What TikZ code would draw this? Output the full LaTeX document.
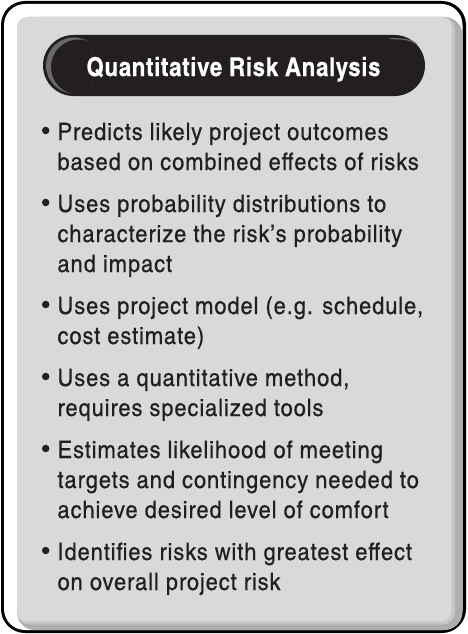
\documentclass[tikz,border=0pt]{standalone}
\usepackage{fontspec}
\newfontfamily\bodyfont{texgyreheroscn-regular.otf}[FakeStretch=1.12,LetterSpace=3.5,FakeBold=0.4]
\newfontfamily\titlefont{texgyreheroscn-bold.otf}[FakeStretch=1.05,LetterSpace=2.3,FakeBold=0.3]
\definecolor{ink}{HTML}{231F20}
\definecolor{panel}{HTML}{D9D9D9}
\definecolor{midband}{HTML}{C6C6C6}
\definecolor{shadowband}{HTML}{AEAEAE}
\definecolor{pillhi}{HTML}{6A6A6A}
\begin{document}
\begin{tikzpicture}[x=1pt,y=-1pt,
  txt/.style={anchor=base west, inner sep=0pt, outer sep=0pt, text=ink,
              font=\bodyfont\fontsize{24}{30}\selectfont},
  dot/.style={circle, fill=ink, inner sep=0pt, outer sep=0pt, minimum size=7.5pt},
  ttl/.style={anchor=base, inner sep=0pt, outer sep=0pt, text=white,
              font=\titlefont\fontsize{26}{30}\selectfont}]
\useasboundingbox (0,0) rectangle (468,634);
\fill[white] (0,0) rectangle (468,634);
% outer frame with bevel
\fill[black, rounded corners=24pt] (1,1) rectangle (466,633);
\fill[white, rounded corners=21pt] (4,4) rectangle (462.5,630);
\fill[shadowband, rounded corners=18pt] (17,17) rectangle (462.5,630);
\fill[midband, rounded corners=12pt] (17,17) rectangle (455,624.5);
\fill[panel, rounded corners=10pt] (17,17) rectangle (451.5,621.5);
% title pill
\fill[ink, rounded corners=30.5pt] (43,35) rectangle (425,96);
\begin{scope}
  \clip (40,30) rectangle (92,100);
  \fill[pillhi] (74,65.5) circle (28);
  \fill[ink] (78.5,67) circle (27.5);
\end{scope}
\draw[pillhi, line width=1.2pt, line cap=round] (390,38.6) .. controls (404,38.6) and (411,40) .. (416,43.5);
\node[ttl] (title) at (233.5,76) {Quantitative Risk Analysis};
% items
\node[dot] (b1) at (45.7,130.5) {};
\node[txt] (l1a) at (57.5,140) {Predicts likely project outcomes};
\node[txt] (l1b) at (57.5,170) {based on combined effects of risks};
\node[dot] (b2) at (45.7,202.5) {};
\node[txt] (l2a) at (57.5,212) {Uses probability distributions to};
\node[txt] (l2b) at (57.5,242) {characterize the risk’s probability};
\node[txt] (l2c) at (57.5,272) {and impact};
\node[dot] (b3) at (45.7,304.5) {};
\node[txt] (l3a) at (57.5,314) {Uses project model (e.g. schedule,};
\node[txt] (l3b) at (57.5,344) {cost estimate)};
\node[dot] (b4) at (45.7,376.5) {};
\node[txt] (l4a) at (57.5,386) {Uses a quantitative method,};
\node[txt] (l4b) at (57.5,416) {requires specialized tools};
\node[dot] (b5) at (45.7,448.5) {};
\node[txt] (l5a) at (57.5,458) {Estimates likelihood of meeting};
\node[txt] (l5b) at (57.5,488) {targets and contingency needed to};
\node[txt] (l5c) at (57.5,518) {achieve desired level of comfort};
\node[dot] (b6) at (45.7,550.5) {};
\node[txt] (l6a) at (57.5,560) {Identifies risks with greatest effect};
\node[txt] (l6b) at (57.5,590) {on overall project risk};
\end{tikzpicture}
\end{document}
